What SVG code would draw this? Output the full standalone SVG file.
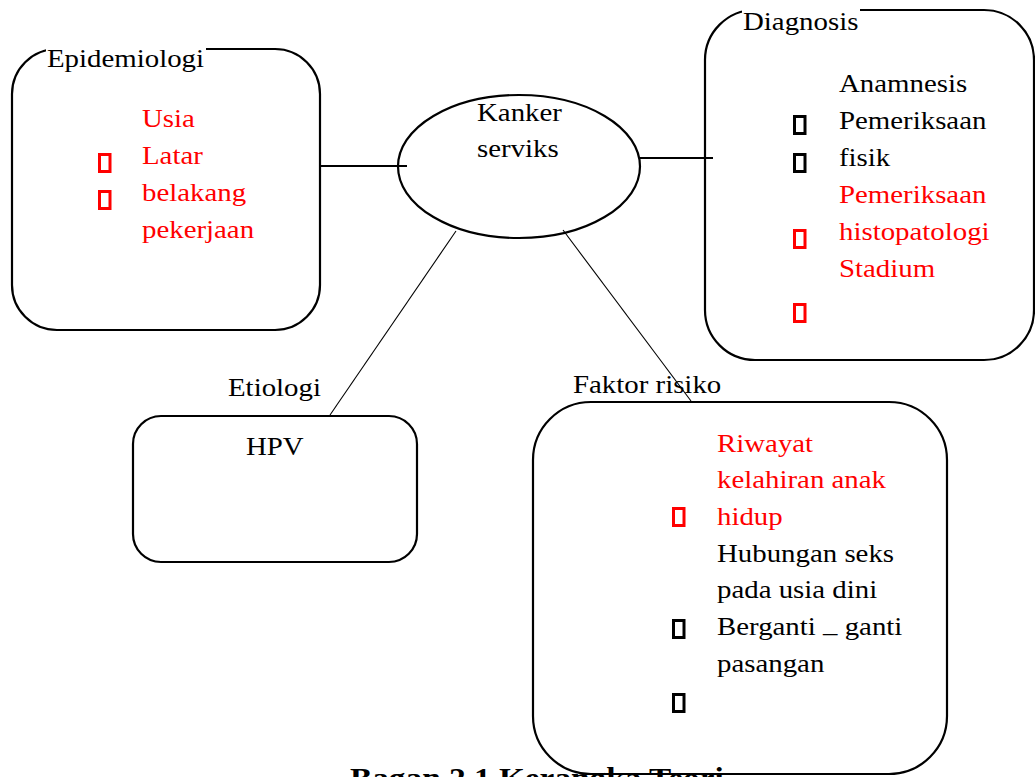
<svg xmlns="http://www.w3.org/2000/svg" width="1035" height="777" viewBox="0 0 1035 777">
<style>
.t{font-family:"Liberation Serif","Times New Roman",serif;font-size:26px;fill:#000}
.r{fill:#ff0000}
.box{fill:none;stroke:#000;stroke-width:2.2}
.sq{fill:none;stroke-width:3}
.sk{stroke:#000}
.sr{stroke:#ff0000}
.c{stroke:#000;fill:none}
.cap{font-family:"Liberation Serif","Times New Roman",serif;font-size:30px;font-weight:bold;fill:#000}
</style>
<rect width="1035" height="777" fill="#fff"/>
<g id="connectors">
<line class="c" x1="320" y1="166" x2="407" y2="166" stroke-width="2"/>
<line class="c" x1="640" y1="158" x2="713" y2="158" stroke-width="2"/>
<line class="c" x1="456" y1="231" x2="330" y2="415" stroke-width="1.1"/>
<line class="c" x1="563" y1="230" x2="691" y2="401" stroke-width="1.1"/>
</g>
<g id="kanker-serviks">
<ellipse class="box" cx="519" cy="166.5" rx="121" ry="71.5"/>
<text class="t" transform="translate(477,121) scale(1.11,1)"><tspan x="0" y="0">Kanker</tspan><tspan x="0" y="36">serviks</tspan></text>
</g>
<g id="epidemiologi">
<rect class="box" x="12" y="49" width="308" height="281" rx="45" ry="45"/>
<rect x="46" y="45" width="160" height="9" fill="#fff"/>
<text class="t" transform="translate(47,67) scale(1.11,1)">Epidemiologi</text>
<rect class="sq sr" x="99.5" y="154.5" width="10.5" height="17"/>
<rect class="sq sr" x="99.5" y="191.5" width="10.5" height="17"/>
<text class="t r" transform="translate(142,127) scale(1.11,1)"><tspan x="0" y="0">Usia</tspan><tspan x="0" y="37">Latar</tspan><tspan x="0" y="74">belakang</tspan><tspan x="0" y="111">pekerjaan</tspan></text>
</g>
<g id="diagnosis">
<rect class="box" x="705" y="10" width="329" height="350" rx="50" ry="50"/>
<rect x="742" y="5" width="118" height="10" fill="#fff"/>
<text class="t" transform="translate(743,30) scale(1.11,1)">Diagnosis</text>
<rect class="sq sk" x="794.5" y="116.5" width="10.5" height="17"/>
<rect class="sq sk" x="794.5" y="154.5" width="10.5" height="17"/>
<rect class="sq sr" x="794.5" y="230.5" width="10.5" height="17"/>
<rect class="sq sr" x="794.5" y="304.5" width="10.5" height="17"/>
<text class="t" transform="translate(839,91.5) scale(1.11,1)"><tspan x="0" y="0">Anamnesis</tspan><tspan x="0" y="37.2">Pemeriksaan</tspan><tspan x="0" y="74.4">fisik</tspan><tspan class="r" x="0" y="111.6">Pemeriksaan</tspan><tspan class="r" x="0" y="148.8">histopatologi</tspan><tspan class="r" x="0" y="186">Stadium</tspan></text>
</g>
<g id="etiologi">
<rect class="box" x="133" y="416" width="284" height="146" rx="28" ry="28"/>
<text class="t" transform="translate(228,396) scale(1.11,1)">Etiologi</text>
<text class="t" transform="translate(246,455) scale(1.11,1)">HPV</text>
</g>
<g id="faktor-risiko">
<rect class="box" x="533" y="402" width="414" height="372" rx="58" ry="58"/>
<text class="t" transform="translate(573,393) scale(1.11,1)">Faktor risiko</text>
<rect class="sq sr" x="673.5" y="508.5" width="10.5" height="17"/>
<rect class="sq sk" x="673.5" y="620.5" width="10.5" height="17"/>
<rect class="sq sk" x="673.5" y="694.5" width="10.5" height="17"/>
<text class="t" transform="translate(717,451.5) scale(1.11,1)"><tspan class="r" x="0" y="0">Riwayat</tspan><tspan class="r" x="0" y="36.7">kelahiran anak</tspan><tspan class="r" x="0" y="73.4">hidup</tspan><tspan x="0" y="110.1">Hubungan seks</tspan><tspan x="0" y="146.8">pada usia dini</tspan><tspan x="0" y="183.5">Berganti </tspan><tspan dy="6">–</tspan><tspan dy="-6"> ganti</tspan><tspan x="0" y="220.2">pasangan</tspan></text>
</g>
<text class="cap" transform="translate(350,788) scale(1.11,1)">Bagan 2.1 Kerangka Teori</text>
</svg>
